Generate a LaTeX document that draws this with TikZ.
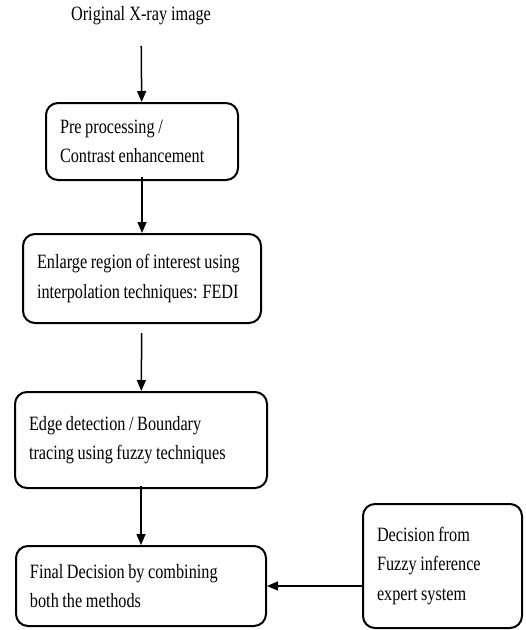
\documentclass[tikz,border=0pt]{standalone}
\usepackage{fontspec}
\setmainfont[FakeStretch=0.8]{Liberation Serif}
\usetikzlibrary{arrows.meta}

\newcommand\flowfont{\fontsize{20.3}{29.5}\selectfont}

\begin{document}
\begin{tikzpicture}[x=1pt, y=-1pt, >={Triangle[length=11pt,width=9pt]},
	font=\flowfont,
	blk/.style={draw, line width=2pt, rounded corners=12pt, align=flush left, inner xsep=14pt, inner ysep=0pt,
		execute at begin node={\spaceskip=3.6pt\relax}},
	flow/.style={->, line width=1.5pt}]
	\useasboundingbox (0,0) rectangle (526,630);
	
	% 输入图像
	\node (src) at (141,16) {Original X-ray image};
	
	% 处理步骤
	\node[blk, text width=164pt, minimum height=77pt] (pre) at (142,141.5) {Pre processing /\\Contrast enhancement};
	\node[blk, text width=210pt, minimum height=89pt] (enl) at (142,278.5) {Enlarge region of interest using\\interpolation techniques: FEDI};
	\node[blk, text width=224pt, minimum height=96pt] (edge) at (141,440) {Edge detection / Boundary\\tracing using fuzzy techniques};
	\node[blk, text width=222pt, minimum height=80pt] (fin) at (141,586) {Final Decision by combining\\both the methods};
	
	% 模糊推理
	\node[blk, text width=131pt, minimum height=124pt] (exp) at (442.5,566) {Decision from\\Fuzzy inference\\expert system};
	
	% 箭头
	\draw[flow, shorten <=17pt] (src) -- (pre);
	\draw[flow, shorten <=-4pt] (pre) -- (enl);
	\draw[flow, shorten <=9pt] (enl) -- (edge);
	\draw[flow, shorten <=-3pt] (edge) -- (fin);
	\draw[flow] (exp.west |- fin.east) -- (fin.east);
\end{tikzpicture}
\end{document}
